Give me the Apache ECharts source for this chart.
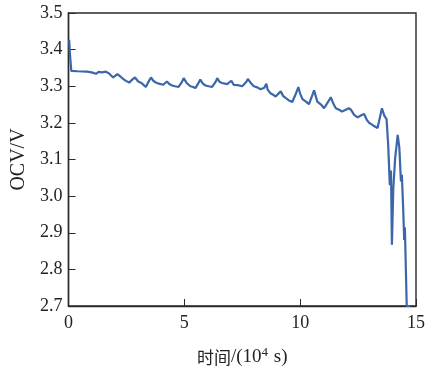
<!DOCTYPE html>
<html><head><meta charset="utf-8">
<script src="https://cdn.jsdelivr.net/npm/echarts@6/dist/echarts.min.js"></script>
<style>html,body{margin:0;padding:0;background:#fff}#c{width:425px;height:367px}</style>
</head><body><div id="c"></div>
<script>
// time in 10^4 s
var timeData = [0.03,0.06,0.12,0.4,0.8,1.0,1.19,1.3,1.45,1.61,1.75,1.93,2.11,2.25,2.4,2.5,2.62,2.75,2.87,3.01,3.15,3.25,3.34,3.45,3.56,3.66,3.77,3.9,4.09,4.25,4.35,4.47,4.6,4.75,4.9,4.97,5.1,5.26,5.38,5.48,5.62,5.69,5.8,5.91,6.05,6.2,6.35,6.42,6.52,6.63,6.85,7.03,7.13,7.3,7.5,7.68,7.74,7.88,8.0,8.15,8.29,8.45,8.54,8.6,8.72,8.83,8.94,9.16,9.27,9.37,9.5,9.66,9.85,9.92,10.0,10.1,10.25,10.38,10.55,10.6,10.74,10.9,11.03,11.25,11.32,11.45,11.54,11.68,11.8,11.95,12.1,12.19,12.33,12.48,12.62,12.76,12.88,12.98,13.15,13.34,13.41,13.53,13.63,13.73,13.8,13.87,13.92,13.96,14.02,14.1,14.16,14.21,14.28,14.35,14.39,14.45,14.49,14.52,14.6,14.75];
// open circuit voltage, V
var ocvData = [3.427,3.39,3.342,3.341,3.340,3.338,3.334,3.339,3.338,3.340,3.335,3.324,3.333,3.326,3.318,3.314,3.310,3.318,3.324,3.313,3.309,3.303,3.298,3.312,3.324,3.315,3.310,3.307,3.304,3.313,3.306,3.302,3.300,3.298,3.312,3.322,3.309,3.300,3.298,3.295,3.310,3.318,3.307,3.302,3.300,3.298,3.312,3.322,3.312,3.309,3.306,3.315,3.304,3.303,3.300,3.312,3.320,3.308,3.300,3.297,3.292,3.296,3.307,3.290,3.281,3.277,3.272,3.286,3.273,3.268,3.262,3.257,3.285,3.298,3.280,3.265,3.258,3.251,3.280,3.289,3.258,3.250,3.240,3.262,3.270,3.250,3.240,3.236,3.231,3.235,3.240,3.236,3.222,3.215,3.220,3.224,3.208,3.200,3.193,3.186,3.190,3.240,3.220,3.210,3.140,3.030,3.070,2.867,3.020,3.104,3.108,3.167,3.133,3.040,3.058,2.960,2.880,2.915,2.700,2.700];
var yTicks = [2.7,2.8,2.9,3.0,3.1,3.2,3.3,3.4,3.5];
var xTicks = [0,5,10,15];

var data = timeData.map(function(t,i){return [t, ocvData[i]];});
var chart = echarts.init(document.getElementById('c'), null, {renderer:'canvas'});
var serif = '"Liberation Serif","Times New Roman",serif';
chart.setOption({
  animation:false,
  backgroundColor:'#fff',
  grid:{left:68.5,right:9,top:13,bottom:61,containLabel:false,outerBoundsMode:'none',show:true,borderColor:'#2a2a2a',borderWidth:1.4,backgroundColor:'transparent'},
  xAxis:{type:'value',min:xTicks[0],max:xTicks[xTicks.length-1],interval:5,
    axisLine:{show:true,lineStyle:{color:'#2a2a2a',width:1.4}},
    axisTick:{show:true,inside:true,length:7,lineStyle:{color:'#2a2a2a'}},
    splitLine:{show:false},
    axisLabel:{color:'#222',fontFamily:serif,fontSize:18,margin:8},
    name:'{c|时间}{a|/(10}{s|4}{a| s)}',nameLocation:'middle',nameGap:40,
    nameTextStyle:{rich:{c:{fontFamily:'"Noto Sans CJK SC",sans-serif',fontSize:17,color:'#222'},
      a:{fontFamily:serif,fontSize:19,color:'#222'},
      s:{fontFamily:serif,fontSize:13,color:'#222',verticalAlign:'top',padding:[0,1,10,0]}}}
  },
  yAxis:{type:'value',min:yTicks[0],max:yTicks[yTicks.length-1],interval:0.1,
    axisLine:{show:true,lineStyle:{color:'#2a2a2a',width:1.4}},
    axisTick:{show:true,inside:true,length:7,lineStyle:{color:'#2a2a2a'}},
    splitLine:{show:false},
    axisLabel:{color:'#222',fontFamily:serif,fontSize:18,margin:6,formatter:function(v){return v.toFixed(1);}},
    name:'OCV/V',nameLocation:'middle',nameGap:38,
    nameTextStyle:{fontFamily:serif,fontSize:20,color:'#222'}
  },
  series:[{type:'line',data:data,showSymbol:false,clip:true,
    lineStyle:{color:'#3b66a9',width:2.2},itemStyle:{color:'#3b66a9'}}]
});
</script></body></html>
